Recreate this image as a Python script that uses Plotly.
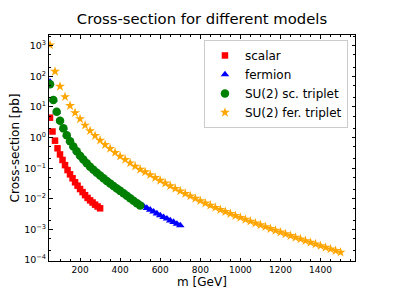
import numpy as np
import plotly.graph_objects as go

# masses [GeV]
m_scalar = np.arange(50, 300.1, 12.5)
m_fermion = np.linspace(50, 700, 40)
m_sc_triplet = np.linspace(50, 500, 28)
m_fer_triplet = np.arange(50, 1500.1, 25)

# cross-sections [pb]
xs_scalar = [4.47, 1.58, 0.794, 0.447, 0.282, 0.186, 0.126, 0.0871, 0.0631, 0.0468,
             0.0347, 0.0269, 0.0209, 0.0166, 0.0132, 0.0107, 0.00891, 0.00759,
             0.00646, 0.00562, 0.00490]
xs_fermion = [66.1, 17.4, 7.08, 3.63, 2.04, 1.23, 0.776, 0.525, 0.372, 0.269,
              0.200, 0.151, 0.117, 0.0933, 0.0759, 0.0617, 0.0501, 0.0407, 0.0339,
              0.0282, 0.0234, 0.0195, 0.0162, 0.0135, 0.0112, 0.00933, 0.00776,
              0.00661, 0.00575, 0.00501, 0.00437, 0.00380, 0.00331, 0.00288,
              0.00251, 0.00224, 0.00195, 0.00174, 0.00151, 0.00135]
xs_sc_triplet = [55.0, 17.0, 6.92, 3.55, 2.00, 1.20, 0.759, 0.513, 0.355, 0.257,
                 0.191, 0.145, 0.112, 0.0891, 0.0708, 0.0575, 0.0468, 0.0380,
                 0.0316, 0.0263, 0.0219, 0.0182, 0.0151, 0.0126, 0.0105, 0.00871,
                 0.00724, 0.00603]
xs_fer_triplet = [1050, 145, 46.8, 21.4, 11.0, 6.46, 4.07, 2.51, 1.66, 1.15, 0.813,
                  0.589, 0.437, 0.324, 0.245, 0.191, 0.148, 0.115, 0.0912, 0.0759,
                  0.0610, 0.0492, 0.0399, 0.0324, 0.0265, 0.0217, 0.0179, 0.0148,
                  0.0123, 0.0103, 0.00861, 0.00724, 0.00612, 0.00520, 0.00444,
                  0.00379, 0.00326, 0.00281, 0.00244, 0.00212, 0.00184, 0.00160,
                  0.00140, 0.00122, 0.00106, 0.000931, 0.000815, 0.000715,
                  0.000627, 0.000551, 0.000484, 0.000427, 0.000376, 0.000332,
                  0.000293, 0.000259, 0.000229, 0.000203, 0.000179]

x_ticks = [200, 400, 600, 800, 1000, 1200, 1400]
y_tick_exp = [-4, -3, -2, -1, 0, 1, 2, 3]

series = [
    ("scalar", m_scalar, xs_scalar, "square", "#ff0000", 6.5),
    ("fermion", m_fermion, xs_fermion, "triangle-up", "#0000ff", 7.5),
    ("SU(2) sc. triplet", m_sc_triplet, xs_sc_triplet, "circle", "#008000", 8.5),
    ("SU(2) fer. triplet", m_fer_triplet, xs_fer_triplet, "star", "#ffa500", 7.5),
]

fig = go.Figure()
for name, x, y, sym, col, sz in series:
    fig.add_trace(go.Scatter(
        x=x, y=y, mode="markers", name=name,
        marker=dict(symbol=sym, color=col, size=sz, line=dict(width=0)),
    ))

# page body has an 8px default margin, so the figure is sized to fit the window
W, H = 386, 288
font = "DejaVu Sans"
fig.update_layout(
    width=W, height=H,
    margin=dict(l=41, r=39, t=27, b=35, autoexpand=False),
    paper_bgcolor="white", plot_bgcolor="white",
    font=dict(family=font, color="black", size=9),
    title=dict(text="Cross-section for different models", x=0.5, xref="paper",
               y=1 - 10.5 / H, yref="container", xanchor="center", yanchor="middle",
               font=dict(size=14.8, family=font)),
    legend=dict(x=0.977, y=0.978, xanchor="right", yanchor="top",
                bgcolor="white", bordercolor="#cccccc", borderwidth=1,
                font=dict(size=12, family=font),
                tracegroupgap=0),
    showlegend=True,
)
fig.update_xaxes(
    range=[45, 1572], showline=True, linecolor="black", linewidth=1, mirror="ticks",
    ticks="inside", ticklen=3.5, tickcolor="black", tickvals=x_ticks,
    minor=dict(ticks="inside", ticklen=2, dtick=50, tickcolor="black"),
    showgrid=False, zeroline=False, automargin=False,
    title=dict(text="m [GeV]", font=dict(size=12, family=font), standoff=3),
    tickfont=dict(size=9),
)
fig.update_yaxes(
    type="log", range=[-4.03, 3.35], showline=True, linecolor="black", linewidth=1,
    mirror="ticks", ticks="inside", ticklen=3.5, tickcolor="black",
    tickvals=[10.0 ** e for e in y_tick_exp],
    ticktext=["10<sup>%s</sup>" % (str(e).replace("-", "\u2212")) for e in y_tick_exp],
    minor=dict(ticks="inside", ticklen=2, tickcolor="black"),
    showgrid=False, zeroline=False, automargin=False,
    title=dict(text="Cross-section [pb]", font=dict(size=12, family=font), standoff=3),
    tickfont=dict(size=9.5),
)
fig.write_html("out.html")
